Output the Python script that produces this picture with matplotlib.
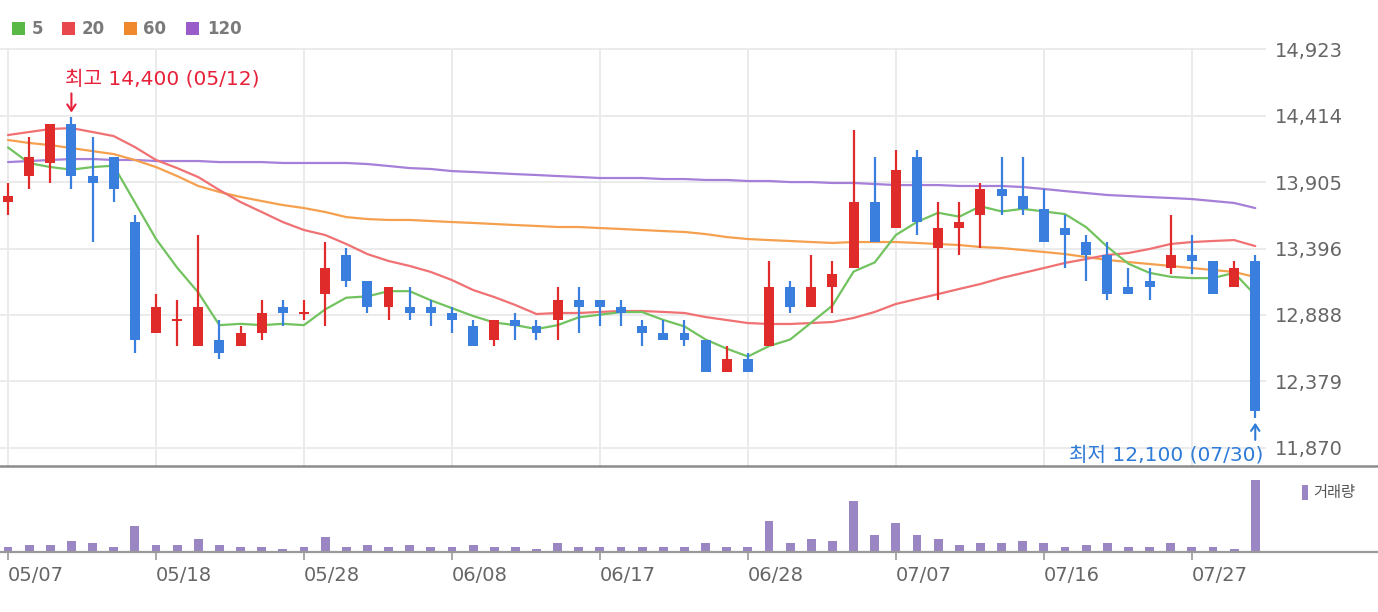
import matplotlib
matplotlib.use('Agg')
import matplotlib.pyplot as plt
import matplotlib.patches as patches
import numpy as np

# trading days shown (2021)
dates = ['05/07', '05/10', '05/11', '05/12', '05/13', '05/14', '05/17', '05/18', '05/20', '05/21',
         '05/24', '05/25', '05/26', '05/27', '05/28', '05/31', '06/01', '06/02', '06/03', '06/04',
         '06/07', '06/08', '06/09', '06/10', '06/11', '06/14', '06/15', '06/16', '06/17', '06/18',
         '06/21', '06/22', '06/23', '06/24', '06/25', '06/28', '06/29', '06/30', '07/01', '07/02',
         '07/05', '07/06', '07/07', '07/08', '07/09', '07/12', '07/13', '07/14', '07/15', '07/16',
         '07/19', '07/20', '07/21', '07/22', '07/23', '07/26', '07/27', '07/28', '07/29', '07/30']

opens = [13750, 13950, 14050, 14350, 13950, 14100, 13600, 12750, 12850, 12650,
         12700, 12650, 12750, 12950, 12900, 13050, 13350, 13150, 12950, 12950,
         12950, 12900, 12800, 12700, 12850, 12800, 12850, 13000, 13000, 12950,
         12800, 12750, 12750, 12700, 12450, 12550, 12650, 13100, 12950, 13100,
         13250, 13750, 13550, 14100, 13400, 13550, 13650, 13850, 13800, 13700,
         13550, 13450, 13350, 13100, 13150, 13250, 13350, 13300, 13100, 13300]
highs = [13900, 14250, 14350, 14400, 14250, 14100, 13650, 13050, 13000, 13500,
         12850, 12800, 13000, 13000, 13000, 13450, 13400, 13150, 13100, 13100,
         13000, 12950, 12850, 12850, 12900, 12850, 13100, 13100, 13000, 13000,
         12850, 12850, 12850, 12700, 12650, 12600, 13300, 13150, 13350, 13300,
         14300, 14100, 14150, 14150, 13750, 13750, 13900, 14100, 14100, 13850,
         13650, 13500, 13450, 13250, 13250, 13650, 13500, 13300, 13300, 13350]
lows = [13650, 13850, 13900, 13850, 13450, 13750, 12600, 12750, 12650, 12650,
        12550, 12650, 12700, 12800, 12850, 12800, 13100, 12900, 12850, 12850,
        12800, 12750, 12650, 12650, 12700, 12700, 12700, 12750, 12800, 12800,
        12650, 12700, 12650, 12450, 12450, 12450, 12650, 12900, 12950, 12900,
        13250, 13450, 13550, 13500, 13000, 13350, 13400, 13650, 13650, 13450,
        13250, 13150, 13000, 13050, 13000, 13200, 13200, 13050, 13100, 12100]
closes = [13800, 14100, 14350, 13950, 13900, 13850, 12700, 12950, 12850, 12950,
          12600, 12750, 12900, 12900, 12900, 13250, 13150, 12950, 13100, 12900,
          12900, 12850, 12650, 12850, 12800, 12750, 13000, 12950, 12950, 12900,
          12750, 12700, 12700, 12450, 12550, 12450, 13100, 12950, 13100, 13200,
          13750, 13450, 14000, 13600, 13550, 13600, 13850, 13800, 13700, 13450,
          13500, 13350, 13050, 13050, 13100, 13350, 13300, 13050, 13250, 12150]
volumes = [14, 20, 20, 33, 26, 14, 80, 20, 20, 38,
           20, 14, 14, 8, 14, 44, 14, 20, 14, 20,
           14, 14, 20, 14, 14, 8, 26, 14, 14, 14,
           14, 14, 14, 26, 14, 14, 93, 26, 38, 33,
           153, 50, 88, 50, 38, 20, 26, 26, 33, 26,
           14, 20, 26, 14, 14, 26, 14, 14, 8, 218]

ma5 = [14170, 14050, 14020, 14000, 14020, 14030, 13750, 13470, 13250, 13060,
       12810, 12820, 12810, 12820, 12810, 12930, 13020, 13030, 13070, 13070,
       13000, 12940, 12880, 12830, 12810, 12780, 12810, 12870, 12890, 12910,
       12910, 12850, 12800, 12700, 12630, 12570, 12650, 12700, 12830, 12960,
       13220, 13290, 13500, 13600, 13670, 13640, 13720, 13680, 13700, 13680,
       13660, 13560, 13410, 13280, 13210, 13180, 13170, 13170, 13210, 13040]
ma20 = [14265, 14288, 14311, 14318, 14288, 14257, 14173, 14074, 14012, 13943,
        13844, 13752, 13676, 13599, 13538, 13500, 13431, 13354, 13301, 13263,
        13217, 13155, 13079, 13025, 12964, 12895, 12903, 12903, 12911, 12918,
        12918, 12911, 12903, 12872, 12849, 12826, 12819, 12819, 12826, 12834,
        12865, 12911, 12972, 13010, 13048, 13087, 13125, 13171, 13209, 13247,
        13286, 13316, 13347, 13362, 13393, 13431, 13446, 13454, 13461, 13415]
ma60 = [14227, 14204, 14188, 14165, 14142, 14119, 14074, 14020, 13951, 13875,
        13829, 13791, 13760, 13729, 13706, 13676, 13637, 13622, 13615, 13615,
        13607, 13599, 13592, 13584, 13576, 13569, 13561, 13561, 13553, 13546,
        13538, 13530, 13523, 13507, 13484, 13469, 13461, 13454, 13446, 13439,
        13446, 13446, 13446, 13439, 13431, 13423, 13408, 13400, 13385, 13370,
        13354, 13331, 13309, 13293, 13278, 13263, 13247, 13232, 13217, 13178]
ma120 = [14058, 14066, 14074, 14081, 14081, 14074, 14074, 14066, 14066, 14066,
         14058, 14058, 14058, 14051, 14051, 14051, 14051, 14043, 14028, 14012,
         14005, 13989, 13982, 13974, 13966, 13959, 13951, 13944, 13936, 13936,
         13936, 13928, 13928, 13921, 13921, 13913, 13913, 13905, 13905, 13898,
         13898, 13890, 13882, 13882, 13882, 13875, 13875, 13875, 13867, 13852,
         13836, 13821, 13806, 13798, 13790, 13783, 13775, 13760, 13745, 13706]

price_ticks = [11870, 12379, 12888, 13396, 13905, 14414, 14923]
ma_names = ['5', '20', '60', '120']

up_color = '#e02b2b'
down_color = '#3a7ede'
ma_line_colors = ['#72c35f', '#f07173', '#f5a04e', '#a67fd8']
ma_key_colors = ['#5ab946', '#e8474c', '#f0892e', '#9a5cc8']
kr = ['Noto Sans CJK KR', 'DejaVu Sans']
mark_font = ['DejaVu Sans', 'Noto Sans CJK KR']

W, H = 1378, 612


def box(l, t, r, b):
    return [l / W, 1 - b / H, (r - l) / W, (b - t) / H]


fig = plt.figure(figsize=(W / 100, H / 100), dpi=100)
ax = fig.add_axes(box(0, 48, 1266, 466))
axv = fig.add_axes(box(0, 466, 1378, 552))

idx = np.arange(len(dates))
o = np.array(opens)
c = np.array(closes)
hi_ = np.array(highs)
lo_ = np.array(lows)

# price panel
for vals, col in zip([ma120, ma60, ma20, ma5], ma_line_colors[::-1]):
    ax.plot(idx, vals, color=col, lw=1.6, zorder=2, solid_capstyle='round')

colors = np.where(c >= o, up_color, down_color)
body = np.abs(c - o)
body_h = np.maximum(body, 15)
ax.vlines(idx, lo_, hi_, colors=colors, lw=1.6, zorder=3)
ax.bar(idx, body_h, bottom=np.minimum(o, c) - (body_h - body) / 2, width=0.47,
       color=colors, linewidth=0, zorder=4)

ax.set_xlim(-8 / 21.14, 1258 / 21.14)
ax.set_ylim(11732, 14931)
ax.set_xticks(idx[::7])
ax.set_yticks(price_ticks)
ax.set_yticklabels([f'{v:,}' for v in price_ticks])
ax.yaxis.tick_right()
ax.tick_params(axis='y', length=0, pad=6.5, labelsize=14, labelcolor='#666666')
ax.tick_params(axis='x', length=0, labelbottom=False)
ax.grid(True, color='#ebebeb', lw=1.4, zorder=0)
ax.set_axisbelow(True)
for s in ax.spines.values():
    s.set_visible(False)

# highest / lowest marks
i_hi = int(np.argmax(hi_))
i_lo = int(np.argmin(lo_))
ax.annotate('', xy=(i_hi, highs[i_hi]), xytext=(0, 24), textcoords='offset pixels',
            arrowprops=dict(arrowstyle='->,head_length=0.45,head_width=0.3', color='#e8213a',
                            lw=1.5, shrinkA=0, shrinkB=3.5), zorder=6, annotation_clip=False)
ax.annotate(f'최고 {highs[i_hi]:,} ({dates[i_hi]})', xy=(i_hi, highs[i_hi]), xytext=(-6, 38),
            textcoords='offset pixels', ha='left', va='center', color='#e8213a',
            fontsize=14.5, family=mark_font, zorder=6, annotation_clip=False)
ax.annotate('', xy=(i_lo, lows[i_lo]), xytext=(0, -22), textcoords='offset pixels',
            arrowprops=dict(arrowstyle='->,head_length=0.45,head_width=0.3', color='#2f7bd8',
                            lw=1.5, shrinkA=0, shrinkB=3.5), zorder=6, annotation_clip=False)
ax.annotate(f'최저 {lows[i_lo]:,} ({dates[i_lo]})', xy=(i_lo, lows[i_lo]), xytext=(8, -37),
            textcoords='offset pixels', ha='right', va='center', color='#2f7bd8',
            fontsize=14.5, family=mark_font, zorder=6, annotation_clip=False)

# volume panel
axv.bar(idx, volumes, width=0.42, color='#9b86c4', linewidth=0)
axv.set_xlim(-8 / 21.14, 1370 / 21.14)
axv.set_ylim(0, 218 * 86 / 72)
axv.set_yticks([])
axv.set_xticks(idx[::7])
axv.set_xticklabels(dates[::7], ha='left')
axv.tick_params(axis='x', direction='out', length=6, width=1.2, color='#999999',
                pad=4, labelsize=14, labelcolor='#666666')
for k in ['left', 'right']:
    axv.spines[k].set_visible(False)
axv.spines['top'].set_color('#8c8c8c')
axv.spines['top'].set_linewidth(1.8)
axv.spines['bottom'].set_color('#999999')
axv.spines['bottom'].set_linewidth(1.6)

# moving average key
for name, col, sx, tx in zip(ma_names, ma_key_colors, [12, 62, 124, 186], [32, 82, 143, 207]):
    fig.add_artist(patches.Rectangle((sx / W, 1 - 35 / H), 13 / W, 13 / H,
                                     transform=fig.transFigure, color=col, lw=0))
    fig.text(tx / W, 1 - 29 / H, name, ha='left', va='center', fontsize=12,
             fontweight='bold', color='#7a7a7a')

# volume key
fig.add_artist(patches.Rectangle((1302 / W, 1 - 500 / H), 6 / W, 15 / H,
                                 transform=fig.transFigure, color='#9b86c4', lw=0))
fig.text(1313 / W, 1 - 492 / H, '거래량', ha='left', va='center', fontsize=11,
         color='#555555', family=kr)

fig.savefig('out.png', dpi=100)
